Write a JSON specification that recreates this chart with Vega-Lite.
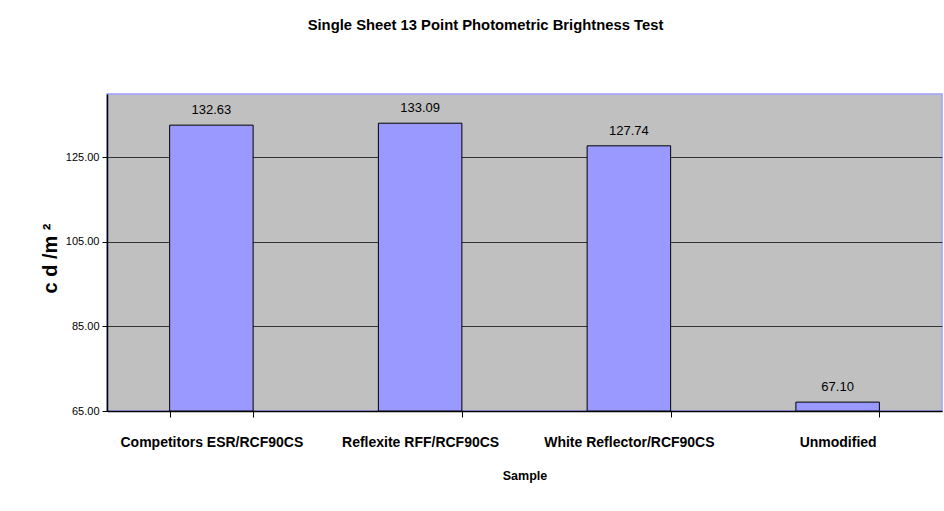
{
  "$schema": "https://vega.github.io/schema/vega-lite/v6.json",
  "autosize": {"type": "none"},
  "padding": {"left": 107, "top": 94, "right": 2, "bottom": 100},
  "width": 835,
  "height": 317,
  "background": "white",
  "view": {"fill": "#C0C0C0", "stroke": "#A0A0FF", "strokeWidth": 1.5},
  "title": {
    "text": "Single Sheet 13 Point Photometric Brightness Test",
    "font": "Liberation Sans",
    "fontSize": 14.8,
    "fontWeight": "bold",
    "color": "black",
    "anchor": "middle",
    "dx": -39,
    "offset": 61
  },
  "data": {
    "values": [
      {"Sample": "Competitors ESR/RCF90CS", "value": 132.63},
      {"Sample": "Reflexite RFF/RCF90CS", "value": 133.09},
      {"Sample": "White Reflector/RCF90CS", "value": 127.74},
      {"Sample": "Unmodified", "value": 67.10}
    ]
  },
  "encoding": {
    "x": {
      "field": "Sample",
      "type": "nominal",
      "sort": null,
      "scale": {"paddingInner": 0.6, "paddingOuter": 0.3},
      "axis": {
        "title": "Sample",
        "titleFont": "Liberation Sans",
        "titleFontSize": 12.5,
        "titleFontWeight": "bold",
        "titleColor": "black",
        "titlePadding": 20,
        "labelFont": "Liberation Sans",
        "labelFontSize": 14,
        "labelFontWeight": "bold",
        "labelColor": "black",
        "labelAngle": 0,
        "labelLimit": 0,
        "labelPadding": 18,
        "tickBand": "extent",
        "tickSize": 6,
        "tickColor": "black",
        "domainColor": "black",
        "domainWidth": 1.5,
        "grid": false
      }
    },
    "y": {
      "field": "value",
      "type": "quantitative",
      "scale": {"domain": [65, 140], "zero": false, "nice": false},
      "axis": {
        "title": "c d /m ²",
        "titleFont": "Liberation Sans",
        "titleFontSize": 20,
        "titleFontWeight": "bold",
        "titleColor": "black",
        "titlePadding": 5,
        "titleY": 164,
        "values": [65, 85, 105, 125],
        "format": ".2f",
        "labelFont": "Liberation Sans",
        "labelFontSize": 11,
        "labelColor": "black",
        "labelPadding": 3,
        "tickSize": 5,
        "tickColor": "black",
        "domainColor": "black",
        "domainWidth": 1.5,
        "grid": true,
        "gridColor": "#333333",
        "gridWidth": 1
      }
    }
  },
  "layer": [
    {
      "mark": {"type": "bar", "fill": "#9999FF", "stroke": "black", "strokeWidth": 1},
      "encoding": {"y2": {"datum": 65}}
    },
    {
      "mark": {"type": "text", "baseline": "alphabetic", "dy": -11, "font": "Liberation Sans", "fontSize": 13, "color": "black"},
      "encoding": {"text": {"field": "value", "type": "quantitative", "format": ".2f"}}
    }
  ]
}
